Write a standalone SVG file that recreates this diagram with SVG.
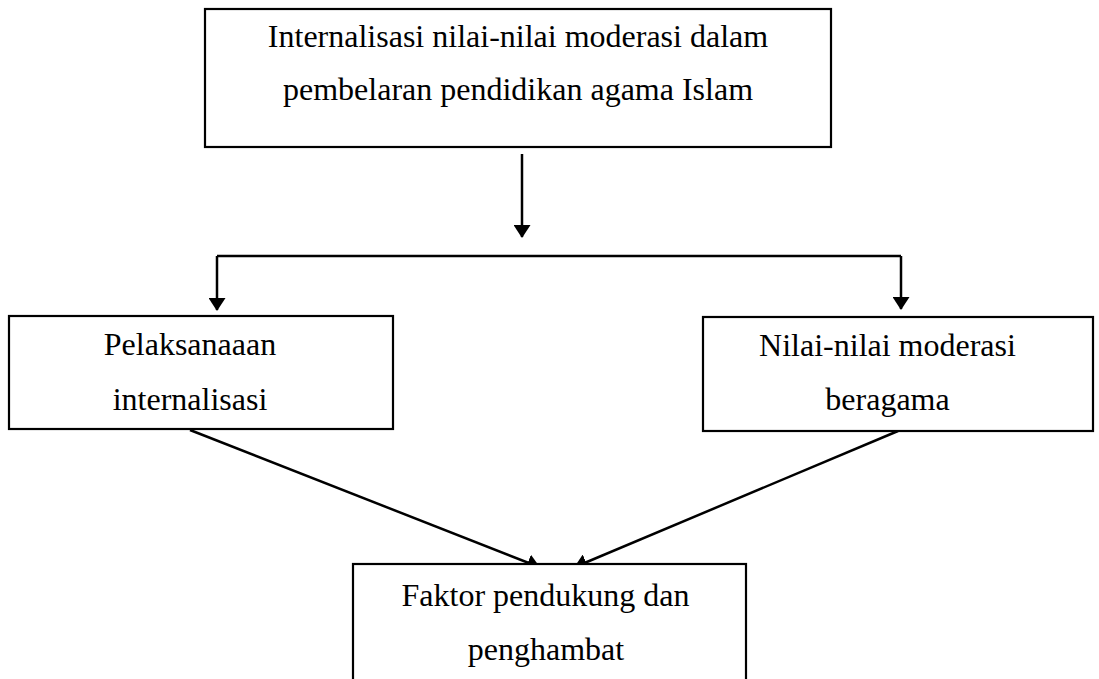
<svg xmlns="http://www.w3.org/2000/svg" width="1099" height="679" viewBox="0 0 1099 679">
  <style>
    .box { fill: #ffffff; stroke: #000000; stroke-width: 2.2; }
    .lbl { font-family: "Liberation Serif", "Times New Roman", serif; font-size: 32px; fill: #000000; text-anchor: middle; }
    .conn { fill: none; stroke: #000000; stroke-width: 2.5; }
  </style>
  <defs>
    <marker id="arrow" viewBox="0 -8.5 13 17" refX="12" refY="0" markerUnits="userSpaceOnUse" markerWidth="13" markerHeight="17" orient="auto">
      <path d="M0,-8.5 L13,0 L0,8.5 Z" fill="#000000"/>
    </marker>
  </defs>
  <rect width="1099" height="679" fill="#ffffff"/>

  <g id="connectors">
    <path class="conn" d="M522,154 L522,237" marker-end="url(#arrow)"/>
    <path class="conn" d="M217,256 L901,256"/>
    <path class="conn" d="M217,256 L217,310" marker-end="url(#arrow)"/>
    <path class="conn" d="M901,256 L901,309" marker-end="url(#arrow)"/>
    <path class="conn" d="M190,430 L539,567" marker-end="url(#arrow)"/>
    <path class="conn" d="M898,431 L575,567" marker-end="url(#arrow)"/>
  </g>

  <g id="node-top">
    <rect class="box" x="205" y="9" width="626" height="138"/>
    <text class="lbl" x="518" y="47">Internalisasi nilai-nilai moderasi dalam</text>
    <text class="lbl" x="518" y="100">pembelaran pendidikan agama Islam</text>
  </g>

  <g id="node-left">
    <rect class="box" x="9" y="316" width="384" height="113"/>
    <text class="lbl" x="190" y="355">Pelaksanaaan</text>
    <text class="lbl" x="190" y="410">internalisasi</text>
  </g>

  <g id="node-right">
    <rect class="box" x="703" y="317" width="390" height="114"/>
    <text class="lbl" x="887.5" y="356">Nilai-nilai moderasi</text>
    <text class="lbl" x="887.5" y="410">beragama</text>
  </g>

  <g id="node-bottom">
    <rect class="box" x="353" y="564" width="393" height="140"/>
    <text class="lbl" x="545.5" y="606">Faktor pendukung dan</text>
    <text class="lbl" x="546" y="660">penghambat</text>
  </g>
</svg>
